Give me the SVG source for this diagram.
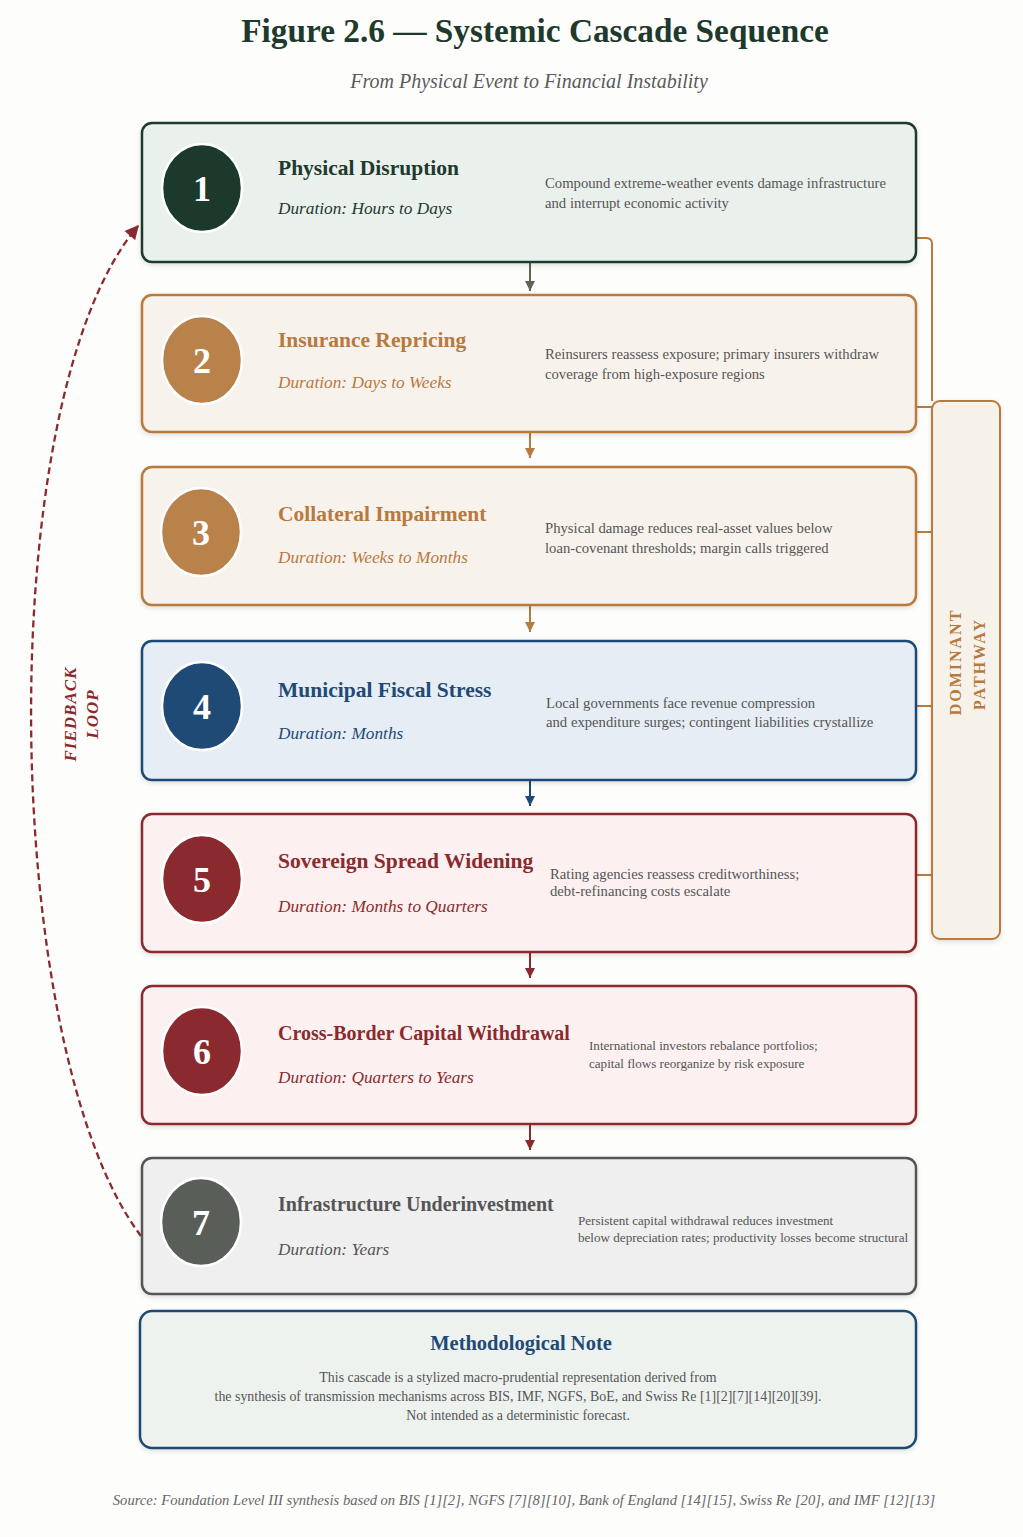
<svg xmlns="http://www.w3.org/2000/svg" width="1023" height="1537" viewBox="0 0 1023 1537">
<defs>
<style>
.title{font-family:"Liberation Serif",serif;font-weight:bold;font-size:33.3px;fill:#1e3a2c}
.sub{font-family:"Liberation Serif",serif;font-style:italic;font-size:20px;fill:#5a5a5a}
.head{font-family:"Liberation Serif",serif;font-weight:bold;font-size:21.5px}
.head2{font-family:"Liberation Serif",serif;font-weight:bold;font-size:20px}
.dur{font-family:"Liberation Serif",serif;font-style:italic;font-size:17.3px}
.desc{font-family:"Liberation Serif",serif;font-size:14.7px;fill:#555}
.desc2{font-family:"Liberation Serif",serif;font-size:13.1px;fill:#555}
.num{font-family:"Liberation Serif",serif;font-weight:bold;font-size:36px;fill:#fff;text-anchor:middle}
.box{stroke-width:2.5}
.circ{stroke:#fff;stroke-width:2.5}
.conn{fill:none;stroke-width:2}
</style>
<filter id="sh" x="-5%" y="-5%" width="110%" height="115%">
<feDropShadow dx="0" dy="2" stdDeviation="2.5" flood-color="#000" flood-opacity="0.12"/>
</filter>
<marker id="aG" viewBox="0 0 10 10" refX="10" refY="5" markerWidth="10" markerHeight="10" markerUnits="userSpaceOnUse" orient="auto"><path d="M0,0 L10,5 L0,10 z" fill="#5c6650"/></marker>
<marker id="aB" viewBox="0 0 10 10" refX="10" refY="5" markerWidth="10" markerHeight="10" markerUnits="userSpaceOnUse" orient="auto"><path d="M0,0 L10,5 L0,10 z" fill="#b87a3e"/></marker>
<marker id="aN" viewBox="0 0 10 10" refX="10" refY="5" markerWidth="10" markerHeight="10" markerUnits="userSpaceOnUse" orient="auto"><path d="M0,0 L10,5 L0,10 z" fill="#1f4a75"/></marker>
<marker id="aR" viewBox="0 0 10 10" refX="10" refY="5" markerWidth="10" markerHeight="10" markerUnits="userSpaceOnUse" orient="auto"><path d="M0,0 L10,5 L0,10 z" fill="#8b2a2e"/></marker>
<marker id="aF" viewBox="0 0 10 10" refX="9" refY="5" markerWidth="15" markerHeight="14" markerUnits="userSpaceOnUse" orient="auto"><path d="M0,0 L10,5 L0,10 z" fill="#8b2a2e"/></marker>
</defs>
<rect x="0" y="0" width="1023" height="1537" fill="#fdfdfc"/>

<text class="title" x="535" y="42" text-anchor="middle">Figure 2.6 — Systemic Cascade Sequence</text>
<text class="sub" x="529" y="88" text-anchor="middle">From Physical Event to Financial Instability</text>

<g id="connectors">
<line class="conn" x1="530" y1="263" x2="530" y2="291" stroke="#5c6650" marker-end="url(#aG)"/>
<line class="conn" x1="530" y1="433" x2="530" y2="458" stroke="#b87a3e" marker-end="url(#aB)"/>
<line class="conn" x1="530" y1="606" x2="530" y2="632" stroke="#b87a3e" marker-end="url(#aB)"/>
<line class="conn" x1="530" y1="781" x2="530" y2="806" stroke="#1f4a75" marker-end="url(#aN)"/>
<line class="conn" x1="530" y1="953" x2="530" y2="978" stroke="#8b2a2e" marker-end="url(#aR)"/>
<line class="conn" x1="530" y1="1125" x2="530" y2="1150" stroke="#8b2a2e" marker-end="url(#aR)"/>
<path class="conn" d="M916,238 H926 Q932,238 932,244 V401" stroke="#b87a3e"/>
<path class="conn" d="M916,407 H932 M916,532 H932 M916,706 H932 M916,875 H932" stroke="#b87a3e"/>
<path d="M141,1236 C0,1050 -10,400 138,226" fill="none" stroke="#8b2a2e" stroke-width="2.3" stroke-dasharray="7 4" marker-end="url(#aF)"/>
</g>

<g id="feedback-label" fill="#8b2a2e" font-family="Liberation Serif, serif" font-style="italic" font-weight="bold" font-size="17" letter-spacing="1" text-anchor="middle">
<text transform="translate(76,714) rotate(-90)">FIEDBACK</text>
<text transform="translate(98,714) rotate(-90)">LOOP</text>
</g>

<g id="dominant-pathway">
<rect x="932" y="401" width="68" height="538" rx="8" fill="#f6f2ea" stroke="#b87a3e" stroke-width="2" filter="url(#sh)"/>
<g fill="#b8793e" font-family="Liberation Serif, serif" font-weight="bold" font-size="16" letter-spacing="2" text-anchor="middle">
<text transform="translate(961,662) rotate(-90)">DOMINANT</text>
<text transform="translate(985,664) rotate(-90)">PATHWAY</text>
</g>
</g>

<g id="node1">
<rect class="box" x="142" y="123" width="774" height="139" rx="10" fill="#eaf0ec" stroke="#1e3a2c" filter="url(#sh)"/>
<ellipse class="circ" cx="202" cy="188" rx="40" ry="44" fill="#1c3a2b"/>
<text class="num" x="202" y="201">1</text>
<text class="head" x="278" y="175" fill="#1e3a2c">Physical Disruption</text>
<text class="dur" x="278" y="214" fill="#1e3a2c">Duration: Hours to Days</text>
<text class="desc" x="545" y="188">Compound extreme-weather events damage infrastructure</text>
<text class="desc" x="545" y="208">and interrupt economic activity</text>
</g>

<g id="node2">
<rect class="box" x="142" y="295" width="774" height="137" rx="10" fill="#f7f3ec" stroke="#b87a3e" filter="url(#sh)"/>
<ellipse class="circ" cx="202" cy="360" rx="40" ry="44" fill="#b8824a"/>
<text class="num" x="202" y="373">2</text>
<text class="head" x="278" y="347" fill="#b8793e">Insurance Repricing</text>
<text class="dur" x="278" y="388" fill="#b8793e">Duration: Days to Weeks</text>
<text class="desc" x="545" y="359">Reinsurers reassess exposure; primary insurers withdraw</text>
<text class="desc" x="545" y="379">coverage from high-exposure regions</text>
</g>

<g id="node3">
<rect class="box" x="142" y="467" width="774" height="138" rx="10" fill="#f7f3ec" stroke="#b87a3e" filter="url(#sh)"/>
<ellipse class="circ" cx="201" cy="532" rx="40" ry="44" fill="#b8824a"/>
<text class="num" x="201" y="545">3</text>
<text class="head" x="278" y="521" fill="#b8793e">Collateral Impairment</text>
<text class="dur" x="278" y="563" fill="#b8793e">Duration: Weeks to Months</text>
<text class="desc" x="545" y="533">Physical damage reduces real-asset values below</text>
<text class="desc" x="545" y="553">loan-covenant thresholds; margin calls triggered</text>
</g>

<g id="node4">
<rect class="box" x="142" y="641" width="774" height="139" rx="10" fill="#e6edf4" stroke="#1f4a75" filter="url(#sh)"/>
<ellipse class="circ" cx="202" cy="706" rx="40" ry="44" fill="#1f4a75"/>
<text class="num" x="202" y="719">4</text>
<text class="head" x="278" y="697" fill="#1f4a75">Municipal Fiscal Stress</text>
<text class="dur" x="278" y="739" fill="#1f4a75">Duration: Months</text>
<text class="desc" x="546" y="708">Local governments face revenue compression</text>
<text class="desc" x="546" y="727">and expenditure surges; contingent liabilities crystallize</text>
</g>

<g id="node5">
<rect class="box" x="142" y="814" width="774" height="138" rx="10" fill="#fcf1f0" stroke="#8b2a2e" filter="url(#sh)"/>
<ellipse class="circ" cx="202" cy="879" rx="40" ry="44" fill="#8b2a2e"/>
<text class="num" x="202" y="892">5</text>
<text class="head" x="278" y="868" fill="#8b2a2e">Sovereign Spread Widening</text>
<text class="dur" x="278" y="912" fill="#8b2a2e">Duration: Months to Quarters</text>
<text class="desc" x="550" y="879">Rating agencies reassess creditworthiness;</text>
<text class="desc" x="550" y="896">debt-refinancing costs escalate</text>
</g>

<g id="node6">
<rect class="box" x="142" y="986" width="774" height="138" rx="10" fill="#fcf1f0" stroke="#8b2a2e" filter="url(#sh)"/>
<ellipse class="circ" cx="202" cy="1051" rx="40" ry="44" fill="#8b2a2e"/>
<text class="num" x="202" y="1064">6</text>
<text class="head2" x="278" y="1040" fill="#8b2a2e">Cross-Border Capital Withdrawal</text>
<text class="dur" x="278" y="1083" fill="#8b2a2e">Duration: Quarters to Years</text>
<text class="desc2" x="589" y="1050">International investors rebalance portfolios;</text>
<text class="desc2" x="589" y="1068">capital flows reorganize by risk exposure</text>
</g>

<g id="node7">
<rect class="box" x="142" y="1158" width="774" height="136" rx="10" fill="#efefef" stroke="#555" filter="url(#sh)"/>
<ellipse class="circ" cx="201" cy="1222" rx="40" ry="44" fill="#5a5e58"/>
<text class="num" x="201" y="1235">7</text>
<text class="head2" x="278" y="1211" fill="#555">Infrastructure Underinvestment</text>
<text class="dur" x="278" y="1255" fill="#555">Duration: Years</text>
<text class="desc2" x="578" y="1225" font-size="12.9">Persistent capital withdrawal reduces investment</text>
<text class="desc2" x="578" y="1242" font-size="12.9">below depreciation rates; productivity losses become structural</text>
</g>

<g id="method-note">
<rect x="140" y="1311" width="776" height="137" rx="12" fill="#edf2ef" stroke="#1f4a75" stroke-width="2.5" filter="url(#sh)"/>
<text x="521" y="1350" text-anchor="middle" font-family="Liberation Serif, serif" font-weight="bold" font-size="20.5" fill="#1f4a75">Methodological Note</text>
<g font-family="Liberation Serif, serif" font-size="13.9" fill="#555" text-anchor="middle">
<text x="518" y="1382">This cascade is a stylized macro-prudential representation derived from</text>
<text x="518" y="1401">the synthesis of transmission mechanisms across BIS, IMF, NGFS, BoE, and Swiss Re [1][2][7][14][20][39].</text>
<text x="518" y="1420">Not intended as a deterministic forecast.</text>
</g>
</g>

<text x="524" y="1505" text-anchor="middle" font-family="Liberation Serif, serif" font-style="italic" font-size="14.6" fill="#666">Source: Foundation Level III synthesis based on BIS [1][2], NGFS [7][8][10], Bank of England [14][15], Swiss Re [20], and IMF [12][13]</text>
</svg>
